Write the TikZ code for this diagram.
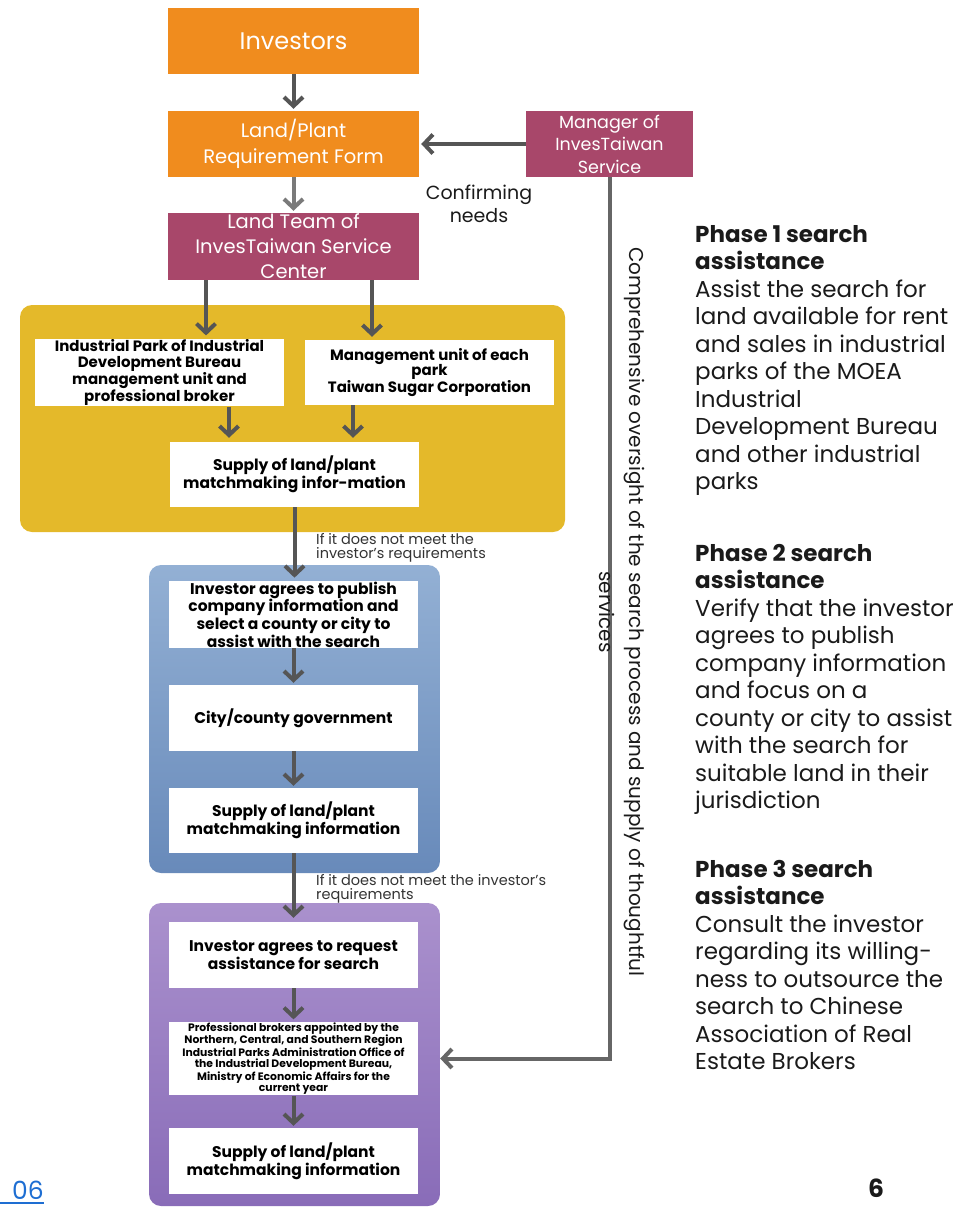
\documentclass[tikz,border=0pt]{standalone}
\usepackage{fontspec}
\setmainfont{Poppins}
\usetikzlibrary{arrows.meta}
\definecolor{orangeb}{HTML}{F08C1E}
\definecolor{plum}{HTML}{A8476A}
\definecolor{gold}{HTML}{E4B92A}
\definecolor{blueT}{HTML}{93B0D4}
\definecolor{blueB}{HTML}{688ABA}
\definecolor{purT}{HTML}{AA91CD}
\definecolor{purB}{HTML}{896CB8}
\definecolor{arrowgray}{HTML}{555555}
\definecolor{lightarrow}{HTML}{7A7A7A}
\definecolor{linegray}{HTML}{666666}
\definecolor{pageblue}{HTML}{1E6ED2}
\definecolor{ink}{HTML}{1A1A1A}
\definecolor{note}{HTML}{333333}
\newcommand\fsz[2]{\fontsize{#1}{#2}\selectfont}

\begin{document}
\begin{tikzpicture}[x=1pt,y=-1pt,
  head/.style={-{Straight Barb[length=9pt,width=19pt]}},
  arr/.style={draw=arrowgray, line width=4pt, head, shorten >=2pt},
  cbox/.style={rectangle, minimum width=251pt, minimum height=66pt, inner sep=1pt,
    align=center, text=white},
  wbox/.style={rectangle, fill=white, minimum width=249pt, minimum height=65pt,
    inner sep=1pt, align=center, text=black, font=\fsz{15.5}{16}\bfseries},
  panel/.style={rectangle, rounded corners=12pt, inner sep=0pt},
  note/.style={align=left, inner sep=0pt, text=note, font=\fsz{14.5}{14}},
  side/.style={align=left, inner sep=0pt, text=ink, font=\fsz{23}{27.5}}
]
\useasboundingbox (0,0) rectangle (961,1207);

% phase panels
\node[panel, fill=gold, minimum width=545pt, minimum height=227pt] (ph1) at (292.5,418.5) {};
\node[panel, top color=blueT, bottom color=blueB, minimum width=291pt, minimum height=308pt] (ph2) at (294.5,719) {};
\node[panel, top color=purT, bottom color=purB, minimum width=291pt, minimum height=303pt] (ph3) at (294.5,1054.5) {};

% top of the flow
\node[cbox, fill=orangeb, font=\fsz{24}{28}] (inv) at (293.5,41) {Investors};
\node[cbox, fill=orangeb, font=\fsz{19.5}{26}] (form) at (293.5,144) {Land/Plant\\Requirement Form};
\node[cbox, fill=plum, minimum height=67pt, font=\fsz{19.5}{25}] (team) at (293.5,246.5) {Land Team of\\InvesTaiwan Service\\Center};
\node[cbox, fill=plum, minimum width=167pt, font=\fsz{17.5}{22.5}] (mgr) at (609.5,144) {Manager of\\InvesTaiwan\\Service};
\node[align=center, inner sep=0pt, text=ink, font=\fsz{19}{23.5}] (conf) at (479,204) {Confirming\\needs};

% phase 1
\node[wbox, font=\fsz{15}{15.6}\bfseries] (p1a) at (159.5,372.5) {Industrial Park of Industrial\\Development Bureau\\management unit and\\professional broker};
\node[wbox, font=\fsz{15}{15.6}\bfseries] (p1b) at (429.5,372.5) {Management unit of each\\park\\Taiwan Sugar Corporation};
\node[wbox] (p1c) at (294.5,474.5) {Supply of land/plant\\matchmaking infor-mation};

% phase 2
\node[wbox] (p2a) at (293.5,614.5) {Investor agrees to publish\\company information and\\select a county or city to\\assist with the search};
\node[wbox, minimum height=66pt] (p2b) at (293.5,718) {City/county government};
\node[wbox] (p2c) at (293.5,820.5) {Supply of land/plant\\matchmaking information};

% phase 3
\node[wbox, minimum height=66pt] (p3a) at (293.5,955) {Investor agrees to request\\assistance for search};
\node[wbox, font=\fsz{10.8}{11.3}\bfseries] (p3b) at (293.5,1058.5) {Professional brokers appointed by the\\Northern, Central, and Southern Region\\Industrial Parks Administration Office of\\the Industrial Development Bureau,\\Ministry of Economic Affairs for the\\current year};
\node[wbox, minimum height=66pt] (p3c) at (293.5,1161) {Supply of land/plant\\matchmaking information};

% hand-over notes
\node[note, anchor=north west] (n1) at (316,533) {If it does not meet the\\investor's requirements};
\node[note, anchor=north west] (n2) at (316,874) {If it does not meet the investor's\\requirements};

% connectors
\draw[arr] (inv) -- (form);
\draw[arr, draw=lightarrow] (form) -- (team);
\draw[arr] (mgr) -- (form);
\draw[arr, shorten >=3pt] ([xshift=-87.5pt]team.south) -- ([xshift=46.5pt]p1a.north);
\draw[arr, shorten >=3pt] ([xshift=78.5pt]team.south) -- ([xshift=-57.5pt]p1b.north);
\draw[arr, shorten >=4pt] ([xshift=69.5pt]p1a.south) -- ([xshift=-65.5pt]p1c.north);
\draw[arr, shorten >=4pt] ([xshift=-76.5pt]p1b.south) -- ([xshift=58.5pt]p1c.north);
\draw[arr, shorten >=3pt] (p1c.south) -- (p1c.south |- p2a.north);
\draw[arr] (p2a) -- (p2b);
\draw[arr] (p2b) -- (p2c);
\draw[arr, shorten >=4pt] (p2c) -- (p3a);
\draw[arr] (p3a) -- (p3b);
\draw[arr] (p3b) -- (p3c);
\draw[arr, draw=linegray, shorten >=0pt] (mgr.south) |- (p3b.east -| ph3.east);

% oversight label along the line
\node[rotate=-90, align=center, inner sep=0pt, text=ink, font=\fsz{20}{30}] (over) at (622,612)
  {Comprehensive oversight of the search process and supply of thoughtful\\services};

% phase descriptions
\node[side, anchor=north west] (d1) at (695,225) {\textbf{Phase 1 search}\\\textbf{assistance}\\Assist the search for\\land available for rent\\and sales in industrial\\parks of the MOEA\\Industrial\\Development Bureau\\and other industrial\\parks};
\node[side, anchor=north west] (d2) at (695,544) {\textbf{Phase 2 search}\\\textbf{assistance}\\Verify that the investor\\agrees to publish\\company information\\and focus on a\\county or city to assist\\with the search for\\suitable land in their\\jurisdiction};
\node[side, anchor=north west] (d3) at (695,860) {\textbf{Phase 3 search}\\\textbf{assistance}\\Consult the investor\\regarding its willing-\\ness to outsource the\\search to Chinese\\Association of Real\\Estate Brokers};

% page numbers
\node[anchor=base west, inner sep=0pt, text=pageblue, font=\fsz{25}{28}] (pg) at (12,1199) {06};
\draw[pageblue, line width=1.6pt] ([xshift=-12pt,yshift=-4pt]pg.base west) -- ([yshift=-4pt]pg.base east);
\node[anchor=base, inner sep=0pt, text=ink, font=\fsz{25}{28}\bfseries] (pn) at (876,1197) {6};
\end{tikzpicture}
\end{document}
